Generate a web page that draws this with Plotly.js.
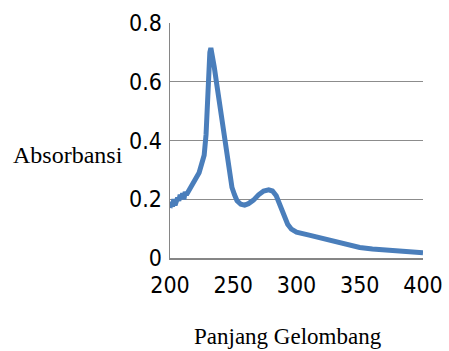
<!DOCTYPE html>
<html><head><meta charset="utf-8">
<script src="https://cdn.plot.ly/plotly-3.0.1.min.js"></script>
<style>html,body{margin:0;padding:0;background:#fff}#c{width:449px;height:351px}</style>
</head><body><div id="c"></div>
<script>
var wavelength = [200,201,202,203,204,205,206,207,208,209,210,211,212,213,215,217,219,221,223,225,227,228.5,229.5,230.5,231.5,232.3,233.5,235,237,239,241,243,245,247,249,251,253,256,259,262,266,270,274,278,281,284,287,290,293,296,300,310,320,330,340,350,360,370,380,390,400];
var absorbance = [0.17,0.19,0.175,0.2,0.18,0.2,0.205,0.195,0.215,0.205,0.22,0.2,0.225,0.215,0.23,0.245,0.255,0.27,0.29,0.32,0.35,0.42,0.55,0.65,0.70,0.715,0.69,0.65,0.59,0.53,0.47,0.4,0.34,0.28,0.24,0.215,0.195,0.183,0.18,0.185,0.197,0.215,0.228,0.232,0.228,0.212,0.18,0.145,0.115,0.098,0.088,0.078,0.068,0.057,0.045,0.036,0.031,0.027,0.023,0.02,0.018];
var xTicks = [200,250,300,350,400];
var yTicks = [0,0.2,0.4,0.6,0.8];
var yTickText = ['0','0.2','0.4','0.6','0.8'];

var tickFont = {family:'"DejaVu Sans Condensed",sans-serif', size:23, color:'#000'};
Plotly.newPlot('c',[{
  x: wavelength, y: absorbance, type:'scatter', mode:'lines',
  line:{color:'#4a7ebb', width:5}
}],{
  width:449, height:351,
  margin:{l:170,r:26,t:23,b:93},
  paper_bgcolor:'#fff', plot_bgcolor:'#fff',
  showlegend:false,
  xaxis:{range:[200,400], tickvals:xTicks, ticks:'', showgrid:false, zeroline:false,
    showline:true, linecolor:'#868686', linewidth:1.5, tickfont:tickFont, ticklabelstandoff:6},
  yaxis:{range:[0,0.8], tickvals:yTicks, ticktext:yTickText, ticks:'', showgrid:true, gridcolor:'#8c8c8c', gridwidth:1.2,
    zeroline:false, showline:true, linecolor:'#868686', linewidth:1.5, tickfont:tickFont, ticklabelstandoff:2},
  annotations:[
    {text:'Absorbansi', xref:'paper', yref:'paper', x:-0.63, y:0.44, xanchor:'left', yanchor:'middle', showarrow:false,
     font:{family:'"Liberation Serif","Times New Roman",serif', size:24, color:'#000'}},
    {text:'Panjang Gelombang', xref:'paper', yref:'paper', x:0.465, y:-0.335, xanchor:'center', yanchor:'middle', showarrow:false,
     font:{family:'"Liberation Serif","Times New Roman",serif', size:23, color:'#000'}}
  ]
},{staticPlot:true});
</script></body></html>
